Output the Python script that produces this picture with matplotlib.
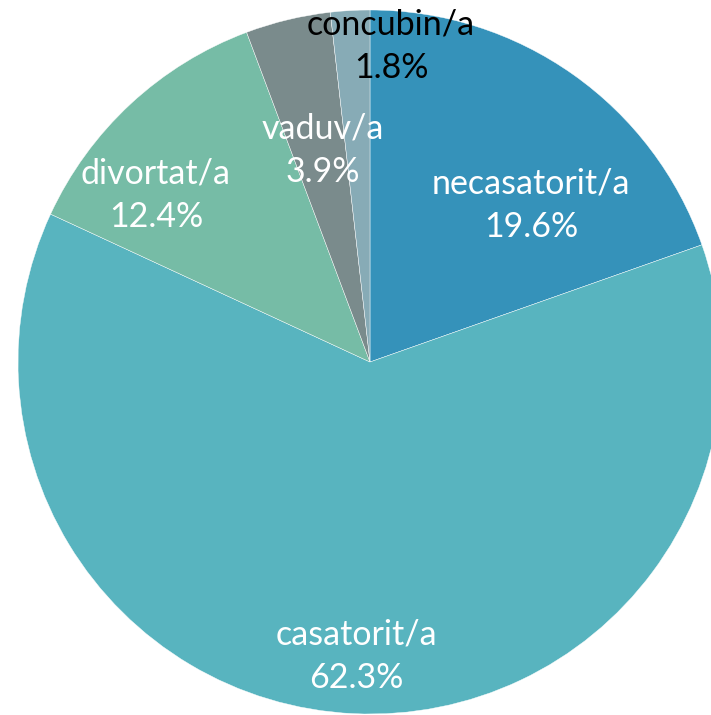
import matplotlib.pyplot as plt

categories = ['necasatorit/a', 'casatorit/a', 'divortat/a', 'vaduv/a', 'concubin/a']
shares = [19.6, 62.3, 12.4, 3.9, 1.8]
colors = ['#3592BA', '#58B4BF', '#76BCA6', '#7A8B8C', '#87ABB6']
text_colors = ['white', 'white', 'white', 'white', 'black']
# label anchor points (pixels, y measured from bottom)
label_pos = [(531, 510), (356, 59), (156, 520), (323, 565), (391, 669)]

fig = plt.figure(figsize=(7.11, 7.15), dpi=100)
ax = fig.add_axes([0, 0, 1, 1])
ax.axis('off')

ax.pie(shares, colors=colors, startangle=90, counterclock=False,
       center=(370, 353), radius=352,
       wedgeprops=dict(edgecolor='white', linewidth=0.3))
ax.set_xlim(0, 711)
ax.set_ylim(0, 715)
ax.set_aspect('equal')

for name, val, (x, y), c in zip(categories, shares, label_pos, text_colors):
    ax.text(x, y, f'{name}\n{val:.1f}%', ha='center', va='center',
            color=c, fontsize=24.5, family='Lato', linespacing=1.45)

fig.savefig('out.png', dpi=100)
